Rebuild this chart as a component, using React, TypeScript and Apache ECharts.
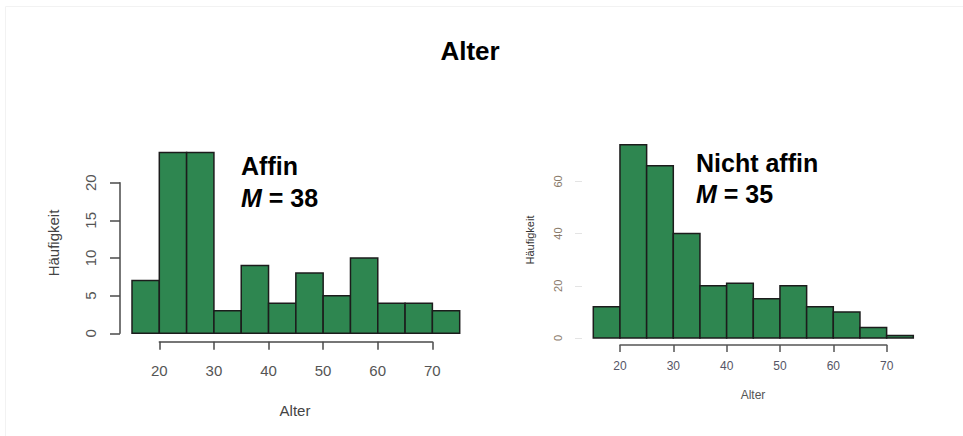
import React, { useEffect, useRef } from "react";
import * as echarts from "echarts";

const binEdges = [15, 20, 25, 30, 35, 40, 45, 50, 55, 60, 65, 70, 75];
const affinCounts = [7, 24, 24, 3, 9, 4, 8, 5, 10, 4, 4, 3];
const nichtAffinCounts = [12, 74, 66, 40, 20, 21, 15, 20, 12, 10, 4, 1];
const xTickMin = 20;
const xTickMax = 70;
const xTickStep = 10;
const affinYTickMax = 20;
const affinYTickStep = 5;
const nichtYTickMax = 60;
const nichtYTickStep = 20;

const mainTitle = "Alter";
const xName = "Alter";
const yName = "Häufigkeit";
const leftLabel = "Affin";
const leftMean = "38";
const rightLabel = "Nicht affin";
const rightMean = "35";

const FONT = "'Liberation Sans', Arial, sans-serif";
const FILL = "#2e8650";
const EDGE = "#1c1c1c";

function histData(counts: number[]) {
  return counts.map((c, i) => [binEdges[i], binEdges[i + 1], c]);
}

function renderBar(params: any, api: any) {
  const x0 = api.value(0);
  const x1 = api.value(1);
  const y = api.value(2);
  const p0 = api.coord([x0, 0]);
  const p1 = api.coord([x1, y]);
  return {
    type: "rect",
    shape: { x: p0[0], y: p1[1], width: p1[0] - p0[0], height: p0[1] - p1[1] },
    style: { fill: FILL, stroke: EDGE, lineWidth: 1.5 },
  };
}

export default function App() {
  const ref = useRef<HTMLDivElement>(null);
  useEffect(() => {
    document.body.style.margin = "0";
    if (!ref.current) return;
    const chart = echarts.init(ref.current, null, { renderer: "svg" });

    const hidden = { show: false };
    const leftMaxY = Math.max(...affinCounts);
    const rightMaxY = Math.max(...nichtAffinCounts);

    const meanText = (x: number, y: number, mean: string) => ({
      type: "text",
      x,
      y,
      style: {
        text: "{i|M}{b| = " + mean + "}",
        fill: "#000",
        textAlign: "left",
        textVerticalAlign: "middle",
        rich: {
          i: { font: `italic bold 25px ${FONT}`, fill: "#000" },
          b: { font: `bold 25px ${FONT}`, fill: "#000" },
        },
      },
    });

    const option: any = {
      animation: false,
      backgroundColor: "#ffffff",
      grid: [
        { left: 132, top: 152.6, width: 327.7, height: 180.7 },
        { left: 159.3, top: 340.7, width: 273, height: 1 },
        { left: 120, top: 182.7, width: 1, height: 150.6 },
        { left: 593.3, top: 338 - rightMaxY * 2.61, width: 320, height: rightMaxY * 2.61 },
        { left: 620, top: 344, width: 266.7, height: 1 },
        { left: 582, top: 338 - nichtYTickMax * 2.61, width: 1, height: nichtYTickMax * 2.61 },
      ],
      xAxis: [
        { gridIndex: 0, type: "value", min: binEdges[0], max: binEdges[binEdges.length - 1], show: false },
        {
          gridIndex: 1,
          type: "value",
          min: xTickMin,
          max: xTickMax,
          interval: xTickStep,
          position: "bottom",
          axisLine: { show: true, lineStyle: { color: "#4a4a4a", width: 1.5 } },
          axisTick: { show: true, length: 8, lineStyle: { color: "#4a4a4a", width: 1.5 } },
          axisLabel: { margin: 21, color: "#555", fontSize: 15, fontFamily: FONT },
          splitLine: hidden,
        },
        { gridIndex: 2, type: "value", show: false },
        { gridIndex: 3, type: "value", min: binEdges[0], max: binEdges[binEdges.length - 1], show: false },
        {
          gridIndex: 4,
          type: "value",
          min: xTickMin,
          max: xTickMax,
          interval: xTickStep,
          position: "bottom",
          axisLine: { show: true, lineStyle: { color: "#555", width: 1.5 } },
          axisTick: { show: true, length: 7, lineStyle: { color: "#555", width: 1.5 } },
          axisLabel: { margin: 15, color: "#556", fontSize: 12, fontFamily: FONT },
          splitLine: hidden,
        },
        { gridIndex: 5, type: "value", show: false },
      ],
      yAxis: [
        { gridIndex: 0, type: "value", min: 0, max: leftMaxY, show: false },
        { gridIndex: 1, type: "value", show: false },
        {
          gridIndex: 2,
          type: "value",
          min: 0,
          max: affinYTickMax,
          interval: affinYTickStep,
          position: "left",
          axisLine: { show: true, lineStyle: { color: "#4a4a4a", width: 1.5 } },
          axisTick: { show: true, length: 10, lineStyle: { color: "#4a4a4a", width: 1.5 } },
          axisLabel: { rotate: 90, margin: 22, color: "#555", fontSize: 15, fontFamily: FONT },
          splitLine: hidden,
        },
        { gridIndex: 3, type: "value", min: 0, max: rightMaxY, show: false },
        { gridIndex: 4, type: "value", show: false },
        {
          gridIndex: 5,
          type: "value",
          min: 0,
          max: nichtYTickMax,
          interval: nichtYTickStep,
          position: "left",
          axisLine: { show: false },
          axisTick: { show: true, length: 7, lineStyle: { color: "#e4e4e4", width: 1 } },
          axisLabel: { rotate: 90, margin: 19, color: "#8a7a6a", fontSize: 11, fontFamily: FONT },
          splitLine: hidden,
        },
      ],
      series: [
        {
          type: "custom",
          xAxisIndex: 0,
          yAxisIndex: 0,
          renderItem: renderBar,
          data: histData(affinCounts),
          silent: true,
        },
        {
          type: "custom",
          xAxisIndex: 3,
          yAxisIndex: 3,
          renderItem: renderBar,
          data: histData(nichtAffinCounts),
          silent: true,
        },
      ],
      graphic: [
        {
          type: "rect",
          silent: true,
          shape: { x: 5.5, y: 6.5, width: 970, height: 440 },
          style: { fill: "none", stroke: "#f2f2f2", lineWidth: 1 },
        },
        {
          type: "text",
          x: 470,
          y: 51,
          style: { text: mainTitle, fill: "#000", font: `bold 26px ${FONT}`, textAlign: "center", textVerticalAlign: "middle" },
        },
        {
          type: "text",
          x: 241,
          y: 166,
          style: { text: leftLabel, fill: "#000", font: `bold 25px ${FONT}`, textAlign: "left", textVerticalAlign: "middle" },
        },
        meanText(241, 198, leftMean),
        {
          type: "text",
          x: 696,
          y: 162.5,
          style: { text: rightLabel, fill: "#000", font: `bold 25px ${FONT}`, textAlign: "left", textVerticalAlign: "middle" },
        },
        meanText(696, 194, rightMean),
        {
          type: "text",
          x: 295,
          y: 410,
          style: { text: xName, fill: "#444", font: `15px ${FONT}`, textAlign: "center", textVerticalAlign: "middle" },
        },
        {
          type: "text",
          x: 53,
          y: 243,
          rotation: Math.PI / 2,
          style: { text: yName, fill: "#444", font: `15px ${FONT}`, textAlign: "center", textVerticalAlign: "middle" },
        },
        {
          type: "text",
          x: 753,
          y: 395,
          style: { text: xName, fill: "#555", font: `12px ${FONT}`, textAlign: "center", textVerticalAlign: "middle" },
        },
        {
          type: "text",
          x: 530,
          y: 240,
          rotation: Math.PI / 2,
          style: { text: yName, fill: "#333", font: `11px ${FONT}`, textAlign: "center", textVerticalAlign: "middle" },
        },
      ],
    };
    chart.setOption(option);
    return () => chart.dispose();
  }, []);
  return <div ref={ref} style={{ width: 963, height: 436 }} />;
}
